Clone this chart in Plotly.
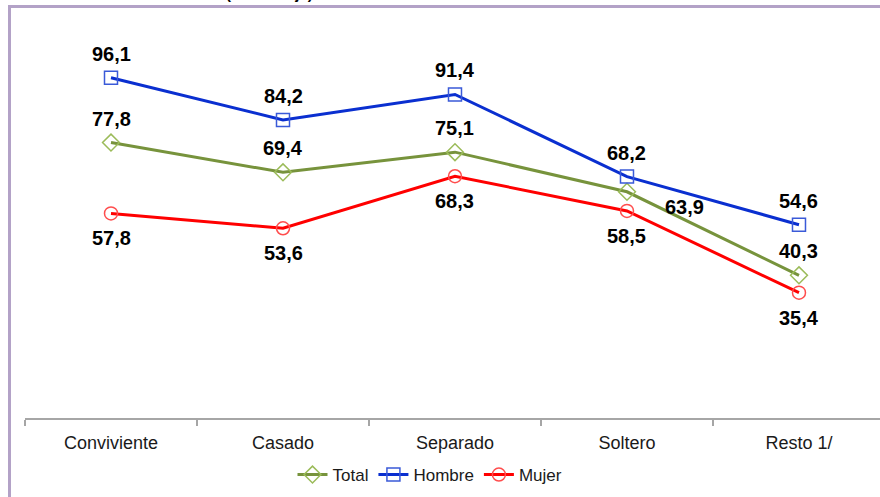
import plotly.graph_objects as go

categories = ["Conviviente", "Casado", "Separado", "Soltero", "Resto 1/"]
total = [77.8, 69.4, 75.1, 63.9, 40.3]
hombre = [96.1, 84.2, 91.4, 68.2, 54.6]
mujer = [57.8, 53.6, 68.3, 58.5, 35.4]
title_text = "(Porcentaje)"

W, H = 880, 497
L, R, T, B = 25, 0, 64, 79
PW, PH = W - L - R, H - T - B


def px(x):
    return (x - L) / PW


def py(y):
    return (H - B - y) / PH


def fmt(v):
    return f"{v:.1f}".replace(".", ",")


fig = go.Figure()

series = [
    ("Total", total, "#77933C", "#9BBB59", "diamond-open", 13),
    ("Hombre", hombre, "#0A2FD0", "#3A5AD8", "square-open", 13),
    ("Mujer", mujer, "#FF0000", "#FF4D4D", "circle-open", 13),
]
for name, vals, lc, mc, sym, ms in series:
    fig.add_trace(go.Scatter(
        x=categories, y=vals, name=name, mode="lines+markers",
        line=dict(color=lc, width=3),
        marker=dict(symbol=sym, size=ms, color=mc, line=dict(width=1.5, color=mc)),
        cliponaxis=False,
    ))

annotations = []
lab_font = dict(family="Liberation Sans, Arial", size=20, color="#000000")
for i, c in enumerate(categories):
    annotations.append(dict(x=c, y=hombre[i], text=f"<b>{fmt(hombre[i])}</b>", showarrow=False,
                            yshift=24, font=lab_font))
    if i == 3:
        annotations.append(dict(x=c, y=total[i], text=f"<b>{fmt(total[i])}</b>", showarrow=False,
                                xshift=58, yshift=-15, font=lab_font))
    else:
        annotations.append(dict(x=c, y=total[i], text=f"<b>{fmt(total[i])}</b>", showarrow=False,
                                yshift=24, font=lab_font))
    annotations.append(dict(x=c, y=mujer[i], text=f"<b>{fmt(mujer[i])}</b>", showarrow=False,
                            yshift=-25, font=lab_font))

annotations.append(dict(xref="paper", yref="paper", x=px(224), y=py(-6.5), xanchor="left",
                        yanchor="middle", text=f"<b>{title_text}</b>", showarrow=False,
                        font=dict(family="Liberation Sans, Arial", size=15, color="#000000")))

shapes = [
    dict(type="rect", xref="paper", yref="paper", x0=px(9.5), x1=px(W + 20), y0=py(H + 20), y1=py(6.5),
         line=dict(color="#B3A2C7", width=3), fillcolor="rgba(0,0,0,0)", layer="above"),
]

fig.update_layout(
    width=W, height=H,
    margin=dict(l=L, r=R, t=T, b=B, pad=0),
    paper_bgcolor="white", plot_bgcolor="white",
    font=dict(family="Liberation Sans, Arial", color="#1a1a1a"),
    xaxis=dict(
        type="category", range=[-0.5, 4.471], tickson="boundaries",
        showline=True, linecolor="#A6A6A6", linewidth=2,
        ticks="outside", ticklen=6, tickcolor="#A6A6A6", tickwidth=1.5,
        showgrid=False, zeroline=False,
        tickfont=dict(size=18, color="#1a1a1a"), ticklabelstandoff=7,
    ),
    yaxis=dict(range=[0, 100], visible=False, showgrid=False, zeroline=False),
    showlegend=True,
    legend=dict(orientation="h", x=px(430), xanchor="center", y=py(475), yanchor="middle",
                font=dict(size=17, color="#1a1a1a"), itemwidth=30, tracegroupgap=0,
                bgcolor="rgba(0,0,0,0)"),
    annotations=annotations,
    shapes=shapes,
)

fig.write_html("out.html", config={"displayModeBar": False},
               post_script="document.body.style.margin='0';document.body.style.overflow='hidden';")
